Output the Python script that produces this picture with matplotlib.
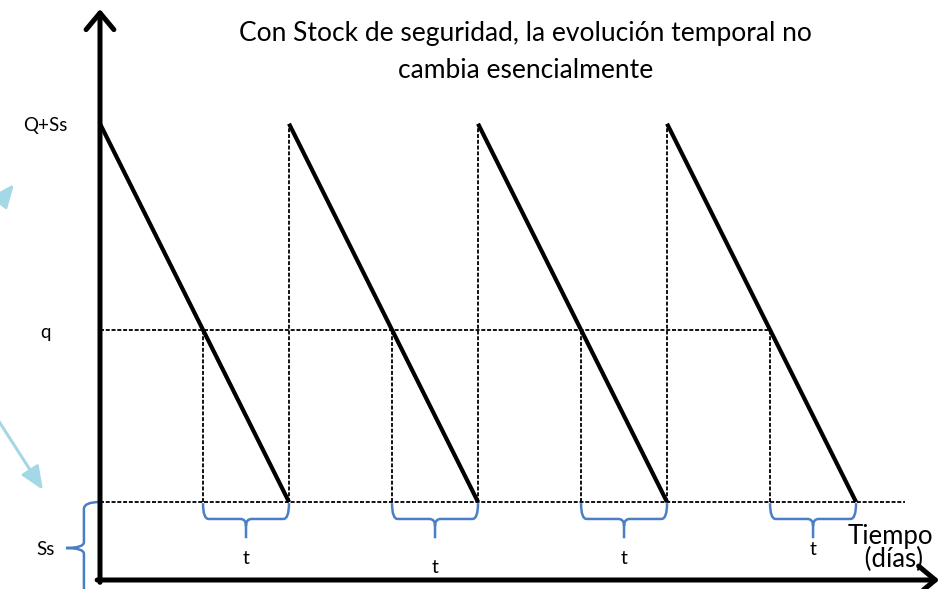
import matplotlib
matplotlib.use("Agg")
import matplotlib.pyplot as plt
from matplotlib.path import Path
from matplotlib.patches import PathPatch, FancyArrowPatch

# datos del modelo (tiempo en días, stock en unidades)
t_pico = [0, 10, 20, 30]           # llegada del pedido (stock = Q+Ss)
t_fin = [10, 20, 30, 40]           # stock llega a Ss
t_pedido = [5.45, 15.45, 25.45, 35.45]  # stock cruza el punto de pedido q
etiquetas_nivel = ["Q+Ss", "q", "Ss"]
valores_nivel = [117, 64, 20]
y_etiqueta_t = [5.6, 3.1, 5.6, 7.7]

stock_max, punto_pedido, stock_seg = valores_nivel
negro = "black"
azul = "#4a7ec6"
celeste = "#a4d8e6"
fuente = "Lato"

fig = plt.figure(figsize=(9.5, 5.89), dpi=100)
ax = fig.add_axes([0, 0, 1, 1])
ax.set_xlim(-5.29, 44.97)
ax.set_ylim(-2.31, 148.72)
ax.axis("off")


def llave_h(x0, x1, y, alto=9.0, rx=0.3):
    xc = (x0 + x1) / 2
    ym = y - alto * 0.45
    yb = y - alto
    ry = alto * 0.2
    verts = [(x0, y), (x0, ym), (x0 + rx, ym), (xc - rx, ym), (xc, ym), (xc, ym - ry), (xc, yb),
             (x1, y), (x1, ym), (x1 - rx, ym), (xc + rx, ym), (xc, ym), (xc, ym - ry)]
    codes = [Path.MOVETO, Path.CURVE3, Path.CURVE3, Path.LINETO, Path.CURVE3, Path.CURVE3, Path.LINETO,
             Path.MOVETO, Path.CURVE3, Path.CURVE3, Path.LINETO, Path.CURVE3, Path.CURVE3]
    ax.add_patch(PathPatch(Path(verts, codes), fc="none", ec=azul, lw=1.8))


def llave_v(y_top, y_tip, y_bot, x=-0.85, punta=0.95):
    verts = [(0, y_top), (x, y_top), (x, y_top - 1.8), (x, y_tip + 1.5), (x, y_tip), (x - punta, y_tip),
             (x - punta, y_tip), (x, y_tip), (x, y_tip - 1.5), (x, y_bot)]
    codes = [Path.MOVETO, Path.CURVE3, Path.CURVE3, Path.LINETO, Path.CURVE3, Path.CURVE3,
             Path.MOVETO, Path.CURVE3, Path.CURVE3, Path.LINETO]
    ax.add_patch(PathPatch(Path(verts, codes), fc="none", ec=azul, lw=1.8))


punteado = dict(color=negro, lw=1.3, ls=(0, (2.2, 1.0)))

# lineas de referencia punteadas
ax.plot([0, t_pedido[-1]], [punto_pedido, punto_pedido], **punteado)
ax.plot([0, 42.6], [stock_seg, stock_seg], **punteado)
for tp in t_pedido:
    ax.plot([tp, tp], [stock_seg, punto_pedido], **punteado)
for tp in t_pico[1:]:
    ax.plot([tp, tp], [stock_seg, stock_max], **punteado)

# diente de sierra
for a, b in zip(t_pico, t_fin):
    ax.plot([a, b], [stock_max, stock_seg], color=negro, lw=3, solid_capstyle="butt")

# ejes con flecha
flecha = dict(arrowstyle="->,head_length=0.6,head_width=0.5", lw=3.6, color=negro,
              mutation_scale=20, shrinkA=0, shrinkB=0)
ax.annotate("", xy=(0, 146.4), xytext=(0, -0.6), arrowprops=flecha)
ax.annotate("", xy=(44.4, 0), xytext=(-0.15, 0), arrowprops=flecha)

# llaves del plazo t
for a, b, yl in zip(t_pedido, t_fin, y_etiqueta_t):
    llave_h(a, b, stock_seg - 0.3)
    ax.text((a + b) / 2, yl, "t", ha="center", va="center", fontsize=14, family=fuente)

# llave del stock de seguridad
llave_v(stock_seg, 8.2, -5)

# etiquetas de niveles
for lab, val in zip(etiquetas_nivel, valores_nivel):
    yv = 7.7 if lab == "Ss" else val - 0.5
    ax.text(-2.9, yv, lab, ha="center", va="center", fontsize=13.5, family=fuente)

ax.text(22.5, 135.4, "Con Stock de seguridad, la evolución temporal no\ncambia esencialmente",
        ha="center", va="center", fontsize=19, family=fuente, linespacing=1.62)
ax.text(41.8, 8.2, "Tiempo\n (días)", ha="center", va="center", fontsize=18.5, family=fuente,
        linespacing=0.92)

# flechas celestes de la izquierda (cortadas por el borde)
for xy0, xy1 in [((-6.9, 87.2), (-4.55, 101.5)), ((-5.56, 42.3), (-3.02, 23.1))]:
    ax.add_patch(FancyArrowPatch(xy0, xy1, arrowstyle="-|>,head_length=1.4,head_width=0.6",
                                 mutation_scale=10, lw=2.2, color=celeste, shrinkA=0, shrinkB=0))

fig.savefig("out.png", dpi=100)
